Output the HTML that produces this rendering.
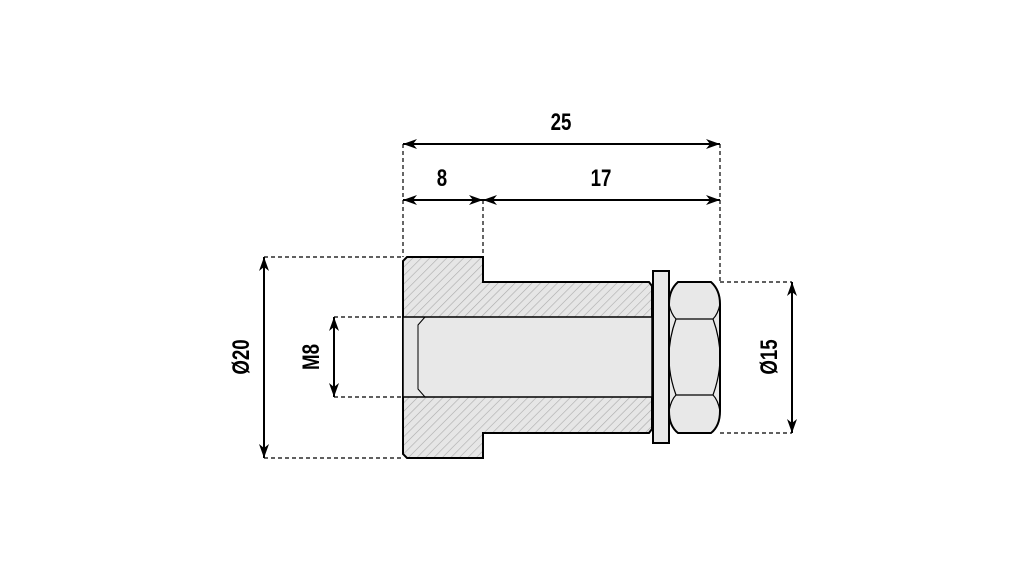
<!DOCTYPE html>
<html><head><meta charset="utf-8"><style>
html,body{margin:0;padding:0;background:#fff;}
svg{display:block;}
text{font-family:"Liberation Sans",sans-serif;font-weight:bold;font-size:24px;fill:#000;}
</style></head><body>
<svg width="1021" height="567" viewBox="0 0 1021 567" xmlns="http://www.w3.org/2000/svg">
<defs>
<pattern id="h" patternUnits="userSpaceOnUse" width="6" height="6" patternTransform="rotate(45)">
<rect width="6" height="6" fill="#e6e6e6"/>
<line x1="0" y1="0" x2="0" y2="6" stroke="#aaa" stroke-width="1.2"/>
</pattern>
<marker id="a" viewBox="0 0 14 10" refX="14" refY="5" markerWidth="14" markerHeight="10" orient="auto-start-reverse" markerUnits="userSpaceOnUse">
<path d="M0,0 L14,5 L0,10 L4,5 z" fill="#000"/>
</marker>
</defs>
<g fill="none" stroke="#000" stroke-width="1.2" stroke-dasharray="4,3">
<line x1="403" y1="144" x2="403" y2="257"/>
<line x1="483" y1="200" x2="483" y2="257"/>
<line x1="720" y1="144" x2="720" y2="282"/>
<line x1="264" y1="257" x2="403" y2="257"/>
<line x1="264" y1="458" x2="403" y2="458"/>
<line x1="334" y1="317" x2="403" y2="317"/>
<line x1="334" y1="397" x2="403" y2="397"/>
<line x1="720" y1="282" x2="792" y2="282"/>
<line x1="720" y1="433" x2="792" y2="433"/>
</g>
<path d="M407,257 L483,257 L483,282 L649,282 L652,286 L652,429 L649,433 L483,433 L483,458 L407,458 L403,454 L403,261 Z" fill="url(#h)" stroke="#000" stroke-width="2"/>
<rect x="403" y="317" width="249" height="80" fill="#e8e8e8" stroke="#000" stroke-width="1.5"/>
<path d="M425,317 L418,325 L418,389 L425,397" fill="none" stroke="#000" stroke-width="1"/>
<rect x="653" y="271" width="16" height="172" fill="#e8e8e8" stroke="#000" stroke-width="2"/>
<path d="M678,282 L711,282 Q720,290 720,304 L720,411 Q720,426 711,433 L678,433 Q669,426 669,411 L669,304 Q669,290 678,282 Z" fill="#e8e8e8" stroke="#000" stroke-width="2"/>
<path d="M669,304 Q671,314 676,319 L713,319 Q718,314 720,304 M669,411 Q671,400 676,395 L713,395 Q718,400 720,411 M676,319 Q662,357 676,395 M713,319 Q727,357 713,395" fill="none" stroke="#000" stroke-width="1.2"/>
<g stroke="#000" stroke-width="2" fill="none" marker-start="url(#a)" marker-end="url(#a)">
<line x1="403" y1="144" x2="720" y2="144"/>
<line x1="403" y1="200" x2="483" y2="200"/>
<line x1="483" y1="200" x2="720" y2="200"/>
<line x1="264" y1="257" x2="264" y2="458"/>
<line x1="334" y1="317" x2="334" y2="397"/>
<line x1="792" y1="282" x2="792" y2="433"/>
</g>
<text transform="translate(561,130) scale(0.78,1)" text-anchor="middle">25</text>
<text transform="translate(442,186) scale(0.78,1)" text-anchor="middle">8</text>
<text transform="translate(601,186) scale(0.78,1)" text-anchor="middle">17</text>
<text transform="translate(249,357) rotate(-90) scale(0.78,1)" text-anchor="middle">Ø20</text>
<text transform="translate(319,357) rotate(-90) scale(0.78,1)" text-anchor="middle">M8</text>
<text transform="translate(777,357) rotate(-90) scale(0.78,1)" text-anchor="middle">Ø15</text>
</svg>
</body></html>
